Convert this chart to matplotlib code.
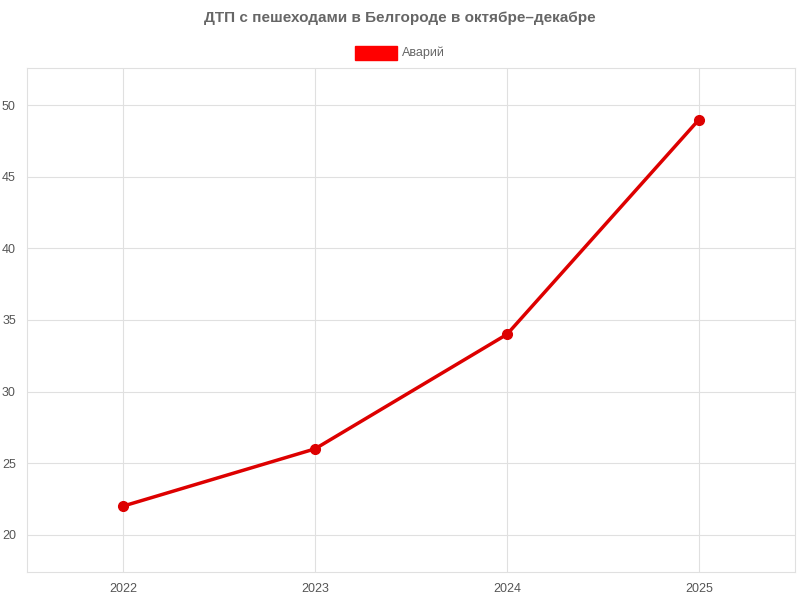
import matplotlib.pyplot as plt

plt.rcParams['font.family'] = ['Liberation Sans', 'DejaVu Sans']

years = ['2022', '2023', '2024', '2025']
accidents = [22, 26, 34, 49]

fig = plt.figure(figsize=(8, 6), dpi=100)
ax = fig.add_axes([27/800, 1-572/600, (795-27)/800, (572-68)/600])

x = range(len(years))
ax.plot(x, accidents, color='#dd0000', linewidth=2.5, marker='o', markersize=7, zorder=3)

ax.set_xlim(-0.5, len(years) - 0.5)
ax.set_ylim(17.4, 52.6)
ax.set_xticks(list(x))
ax.set_xticklabels(years)
ax.set_yticks([20, 25, 30, 35, 40, 45, 50])
ax.grid(True, color='#e0e0e0', linewidth=0.8)
ax.set_axisbelow(True)
for s in ax.spines.values():
    s.set_color('#e0e0e0')
ax.tick_params(colors='#555555', labelsize=9, length=0, pad=8)

fig.text(0.5, 1-18/600, 'ДТП с пешеходами в Белгороде в октябре–декабре',
         ha='center', va='center', fontsize=11, fontweight='bold', color='#666666')
fig.patches.append(plt.Rectangle((355/800, 1-60/600), 42/800, 14/600,
                                 transform=fig.transFigure, color='#ff0000'))
fig.text(402/800, 1-53/600, 'Аварий', ha='left', va='center', fontsize=9, color='#666666')

fig.savefig('out.png')
